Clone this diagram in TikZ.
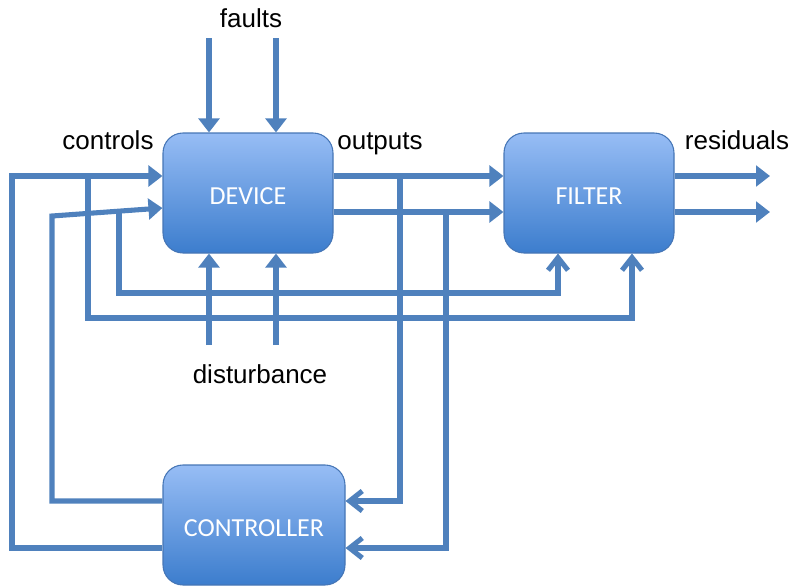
\documentclass[tikz,border=0pt]{standalone}
\usepackage{fontspec}
\setmainfont{Liberation Sans}
\newfontfamily\boxfont{Carlito}
\usetikzlibrary{arrows.meta}
\definecolor{wireblue}{RGB}{79,129,189}
\definecolor{boxtop}{RGB}{151,189,245}
\definecolor{boxbottom}{RGB}{60,125,205}
\definecolor{boxedge}{RGB}{70,118,182}

\begin{document}
\begin{tikzpicture}[x=0.75pt,y=-0.75pt,
  block/.style={rectangle, rounded corners=15pt, draw=boxedge, line width=0.8pt,
    top color=boxtop, bottom color=boxbottom, text=white,
    font=\boxfont\fontsize{19.5}{23}\selectfont,
    text height=17pt, text depth=0pt,
    minimum width=127.5pt, minimum height=90pt, inner sep=0pt},
  lbl/.style={font=\fontsize{19.5}{23}\selectfont, anchor=base, inner sep=0pt},
  wire/.style={draw=wireblue, line width=3.8pt},
  tip/.style={-{Triangle[length=10.5pt,width=15.5pt]}},
  vtip/.style={-{Straight Barb[length=9.5pt,width=15pt]}}]

\useasboundingbox (0,0) rectangle (794,586);

% blocks
\node[block] (dev) at (248,193) {DEVICE};
\node[block] (fil) at (589,193) {FILTER};
\node[block, minimum width=136.5pt] (ctl) at (254,525) {CONTROLLER};

% labels
\node[lbl] (tfaults) at (251,27) {faults};
\node[lbl] (tcontrols) at (108,149) {controls};
\node[lbl] (toutputs) at (380,149) {outputs};
\node[lbl] (tresiduals) at (737,149) {residuals};
\node[lbl] (tdist) at (260,383) {disturbance};

% branch points and free ends
\coordinate (ja) at (88,176);
\coordinate (jb) at (119,212);
\coordinate (jc) at (400,176);
\coordinate (jd) at (446,212);
\coordinate (f1) at (209,38);
\coordinate (f2) at (276,38);
\coordinate (d1) at (209,345);
\coordinate (d2) at (276,345);
\coordinate (r1) at (770,176);
\coordinate (r2) at (770,212);

% controls: controller -> device
\draw[wire,tip] (ctl.west |- 0,548) -- (12,548) -- (12,176) -- (dev.west |- 0,176);
\draw[wire,tip] (ctl.west |- 0,501) -- (52,501) -- (52,216) -- (dev.west |- 0,208);

% controls tapped to the filter
\draw[wire,vtip] (ja) -- (88,318) -| (fil.south -| 632,0);
\draw[wire,vtip] (jb) -- (119,293) -| (fil.south -| 558,0);

% faults and disturbances
\draw[wire,tip] (f1) -- (f1 |- dev.north);
\draw[wire,tip] (f2) -- (f2 |- dev.north);
\draw[wire,tip] (d1) -- (d1 |- dev.south);
\draw[wire,tip] (d2) -- (d2 |- dev.south);

% outputs: device -> filter
\draw[wire,tip] (dev.east |- 0,176) -- (fil.west |- 0,176);
\draw[wire,tip] (dev.east |- 0,212) -- (fil.west |- 0,212);

% outputs fed back to the controller
\draw[wire,vtip] (jc) -- (400,501) -- (ctl.east |- 0,501);
\draw[wire,vtip] (jd) -- (446,548) -- (ctl.east |- 0,548);

% residuals
\draw[wire,tip] (fil.east |- r1) -- (r1);
\draw[wire,tip] (fil.east |- r2) -- (r2);
\end{tikzpicture}
\end{document}
